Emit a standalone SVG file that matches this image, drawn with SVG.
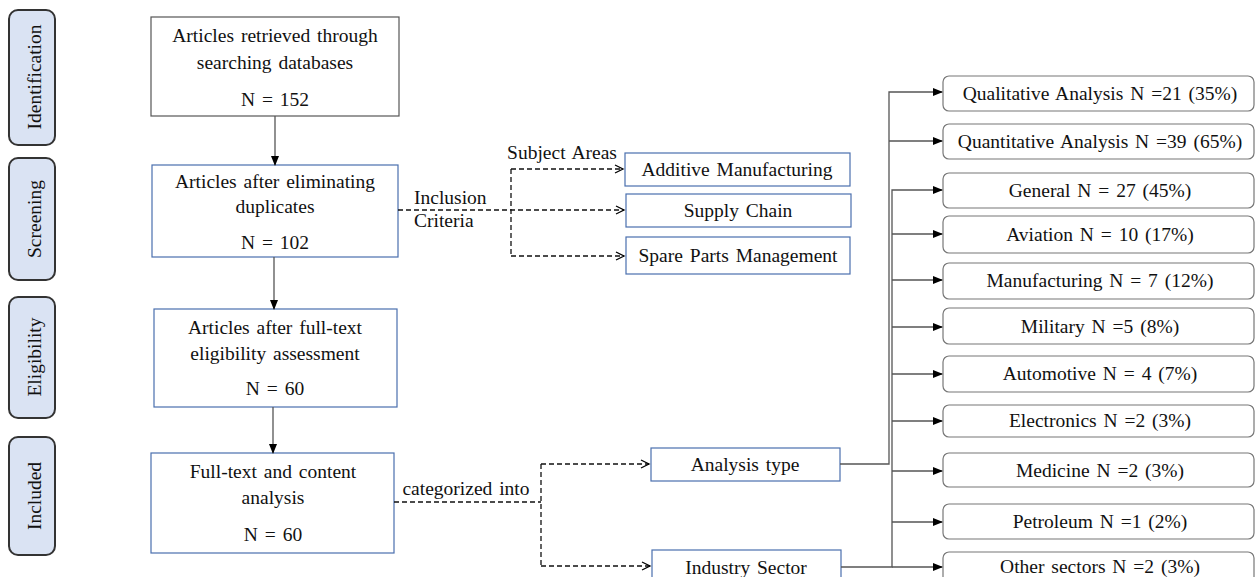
<svg xmlns="http://www.w3.org/2000/svg" width="1255" height="577" viewBox="0 0 1255 577" font-family="Liberation Serif, Times New Roman, serif">
<defs>
<marker id="solid" markerWidth="10" markerHeight="10" refX="9" refY="5" orient="auto" markerUnits="userSpaceOnUse"><path d="M0,1 L10,5 L0,9 Z" fill="#000"/></marker>
<marker id="open" markerWidth="12" markerHeight="12" refX="10" refY="6" orient="auto" markerUnits="userSpaceOnUse"><path d="M2,2 L10,6 L2,10" fill="none" stroke="#000" stroke-width="1.3"/></marker>
</defs>
<style>
text{font-family:'Liberation Serif','Times New Roman',serif;font-size:19.5px;word-spacing:2px;fill:#111;text-anchor:middle}
.stage rect{fill:#dae3f3;stroke:#333;stroke-width:2}
.main{fill:#fff;stroke:#4a6fae;stroke-width:1.2}
.main0{fill:#fff;stroke:#555;stroke-width:1.2}
.sub{fill:#fff;stroke:#4a6fae;stroke-width:1.2}
.res{fill:#fff;stroke:#777;stroke-width:1.2}
.sl{fill:none;stroke:#555;stroke-width:1.3}
.dl{fill:none;stroke:#111;stroke-width:1.3;stroke-dasharray:5,3}
</style>
<g id="stage-identification" class="stage"><rect x="9" y="10" width="46" height="135" rx="9"/><text transform="translate(41,77) rotate(-90)">Identification</text></g>
<g id="stage-screening" class="stage"><rect x="9" y="158" width="46" height="122" rx="9"/><text transform="translate(41,219) rotate(-90)">Screening</text></g>
<g id="stage-eligibility" class="stage"><rect x="9" y="297" width="46" height="121" rx="9"/><text transform="translate(41,357) rotate(-90)">Eligibility</text></g>
<g id="stage-included" class="stage"><rect x="9" y="437" width="46" height="118" rx="9"/><text transform="translate(41,496) rotate(-90)">Included</text></g>

<g id="box-retrieved"><rect class="main0" x="151" y="17" width="248" height="99"/><text x="275" y="42">Articles retrieved through</text><text x="275" y="69">searching databases</text><text x="275" y="106">N = 152</text></g>
<g id="box-duplicates"><rect class="main" x="152" y="165" width="246" height="92"/><text x="275" y="188">Articles after eliminating</text><text x="275" y="213">duplicates</text><text x="275" y="249">N = 102</text></g>
<g id="box-eligibility"><rect class="main" x="154" y="309" width="243" height="98"/><text x="275" y="334">Articles after full-text</text><text x="275" y="360">eligibility assessment</text><text x="275" y="395">N = 60</text></g>
<g id="box-included"><rect class="main" x="151" y="453" width="243" height="100"/><text x="273" y="478">Full-text and content</text><text x="273" y="504">analysis</text><text x="273" y="541">N = 60</text></g>

<g id="box-additive"><rect class="sub" x="625" y="153" width="225" height="33"/><text x="737" y="176">Additive Manufacturing</text></g>
<g id="box-supply"><rect class="sub" x="626" y="194" width="225" height="33"/><text x="738" y="217">Supply Chain</text></g>
<g id="box-spare"><rect class="sub" x="626" y="237" width="224" height="37"/><text x="738" y="262">Spare Parts Management</text></g>

<g id="box-analysis"><rect class="sub" x="651" y="448" width="189" height="33"/><text x="745" y="471">Analysis type</text></g>
<g id="box-industry"><rect class="sub" x="652" y="550" width="189" height="30"/><text x="746" y="574">Industry Sector</text></g>

<g id="res-qualitative"><rect class="res" x="943" y="76" width="311" height="35" rx="6"/><text x="1100" y="100">Qualitative Analysis N =21 (35%)</text></g>
<g id="res-quantitative"><rect class="res" x="943" y="124" width="311" height="35" rx="6"/><text x="1100" y="148">Quantitative Analysis N =39 (65%)</text></g>
<g id="res-general"><rect class="res" x="943" y="173" width="311" height="35" rx="6"/><text x="1100" y="197">General N = 27 (45%)</text></g>
<g id="res-aviation"><rect class="res" x="943" y="216" width="311" height="37" rx="6"/><text x="1100" y="241">Aviation N = 10 (17%)</text></g>
<g id="res-manufacturing"><rect class="res" x="943" y="263" width="311" height="36" rx="6"/><text x="1100" y="287">Manufacturing N = 7 (12%)</text></g>
<g id="res-military"><rect class="res" x="943" y="308" width="311" height="36" rx="6"/><text x="1100" y="333">Military N =5 (8%)</text></g>
<g id="res-automotive"><rect class="res" x="943" y="356" width="311" height="36" rx="6"/><text x="1100" y="380">Automotive N = 4 (7%)</text></g>
<g id="res-electronics"><rect class="res" x="943" y="405" width="311" height="32" rx="6"/><text x="1100" y="427">Electronics N =2 (3%)</text></g>
<g id="res-medicine"><rect class="res" x="943" y="453" width="311" height="34" rx="6"/><text x="1100" y="477">Medicine N =2 (3%)</text></g>
<g id="res-petroleum"><rect class="res" x="943" y="504" width="311" height="35" rx="6"/><text x="1100" y="528">Petroleum N =1 (2%)</text></g>
<g id="res-other"><rect class="res" x="943" y="552" width="311" height="35" rx="6"/><text x="1100" y="573">Other sectors N =2 (3%)</text></g>

<g id="connectors">
<line class="sl" x1="275" y1="116" x2="275" y2="165" marker-end="url(#solid)"/>
<line class="sl" x1="274" y1="257" x2="274" y2="309" marker-end="url(#solid)"/>
<line class="sl" x1="273" y1="407" x2="273" y2="453" marker-end="url(#solid)"/>

<line class="dl" x1="398" y1="210" x2="624" y2="210" marker-end="url(#open)"/>
<line class="dl" x1="511" y1="169" x2="511" y2="256"/>
<line class="dl" x1="511" y1="169" x2="623" y2="169" marker-end="url(#open)"/>
<line class="dl" x1="511" y1="256" x2="624" y2="256" marker-end="url(#open)"/>

<line class="dl" x1="394" y1="502" x2="541" y2="502"/>
<line class="dl" x1="541" y1="464" x2="541" y2="566"/>
<line class="dl" x1="541" y1="464" x2="649" y2="464" marker-end="url(#open)"/>
<line class="dl" x1="541" y1="566" x2="650" y2="566" marker-end="url(#open)"/>

<polyline class="sl" points="840,464 889,464 889,92 942,92" marker-end="url(#solid)"/>
<line class="sl" x1="889" y1="141" x2="942" y2="141" marker-end="url(#solid)"/>
<polyline class="sl" points="841,567 892,567 892,190 942,190" marker-end="url(#solid)"/>
<line class="sl" x1="892" y1="234" x2="942" y2="234" marker-end="url(#solid)"/>
<line class="sl" x1="892" y1="280" x2="942" y2="280" marker-end="url(#solid)"/>
<line class="sl" x1="892" y1="327" x2="942" y2="327" marker-end="url(#solid)"/>
<line class="sl" x1="892" y1="374" x2="942" y2="374" marker-end="url(#solid)"/>
<line class="sl" x1="892" y1="421" x2="942" y2="421" marker-end="url(#solid)"/>
<line class="sl" x1="892" y1="471" x2="942" y2="471" marker-end="url(#solid)"/>
<line class="sl" x1="892" y1="522" x2="942" y2="522" marker-end="url(#solid)"/>
<line class="sl" x1="892" y1="567" x2="942" y2="567" marker-end="url(#solid)"/>
</g>

<g id="labels">
<text x="562" y="159">Subject Areas</text>
<text x="414" y="204" style="text-anchor:start">Inclusion</text>
<text x="414" y="227" style="text-anchor:start">Criteria</text>
<text x="466" y="495">categorized into</text>
</g>
</svg>
